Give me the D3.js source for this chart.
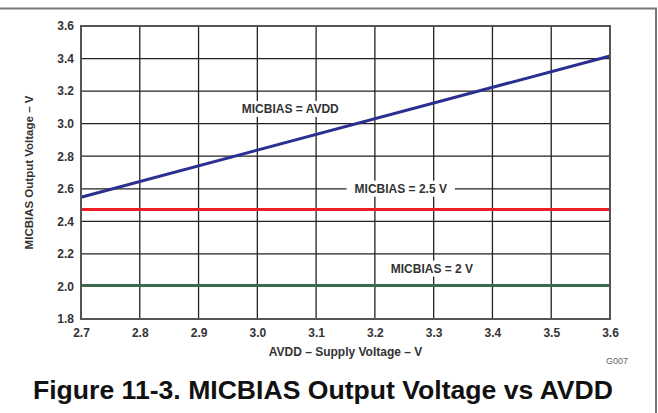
<!DOCTYPE html>
<html><head><meta charset="utf-8">
<script src="https://cdn.jsdelivr.net/npm/d3@7"></script>
<style>
html,body{margin:0;padding:0;background:#fff;}
svg text{font-family:"Liberation Sans",Arial,sans-serif;font-weight:bold;}
</style></head>
<body><svg id="c" width="658" height="413"></svg>
<script>
const xTicks = [2.7, 2.8, 2.9, 3.0, 3.1, 3.2, 3.3, 3.4, 3.5, 3.6];
const yTicks = [1.8, 2.0, 2.2, 2.4, 2.6, 2.8, 3.0, 3.2, 3.4, 3.6];
const avddX = [2.7, 3.6];
const micAvdd = [2.548, 3.416];
const mic25 = [2.472, 2.472];
const mic2 = [2.006, 2.006];
const seriesNames = ["MICBIAS = AVDD", "MICBIAS = 2.5 V", "MICBIAS = 2 V"];
const seriesColors = ["#2b2f8f", "#ee1c25", "#3b6a4c"];
const labelPos = [[3.056, 3.066], [3.244, 2.576], [3.297, 2.085]];

const svg = d3.select("#c");
const m = {l:81, t:26, r:610, b:319};
const x = d3.scaleLinear().domain([2.7,3.6]).range([m.l,m.r]);
const y = d3.scaleLinear().domain([1.8,3.6]).range([m.b,m.t]);

// outer frame
svg.append("path").attr("d",`M0,8.5H656V413`).attr("fill","none").attr("stroke","#777").attr("stroke-width",2);

// grid
const g = svg.append("g");
g.selectAll(".vx").data(xTicks.slice(1,-1)).enter().append("line")
 .attr("x1",d=>x(d)).attr("x2",d=>x(d)).attr("y1",m.t).attr("y2",m.b)
 .attr("stroke","#222").attr("stroke-width",1.3);
g.selectAll(".hy").data(yTicks.slice(1,-1)).enter().append("line")
 .attr("y1",d=>y(d)).attr("y2",d=>y(d)).attr("x1",m.l).attr("x2",m.r)
 .attr("stroke","#222").attr("stroke-width",1.3);

// labels with white backgrounds to break grid
const labels = svg.append("g");
seriesNames.forEach((n,i)=>{
  const t = labels.append("text").attr("x",x(labelPos[i][0])).attr("y",y(labelPos[i][1]))
    .attr("text-anchor","middle").attr("font-size",12).attr("fill","#333").text(n);
  const bb = t.node().getBBox();
  labels.insert("rect","text").attr("x",bb.x-8).attr("y",bb.y-1).attr("width",bb.width+16).attr("height",bb.height+2).attr("fill","#fff");
});

// lines
const line = d3.line().x(d=>x(d[0])).y(d=>y(d[1]));
[micAvdd, mic25, mic2].forEach((s,i)=>{
  svg.append("path").datum(avddX.map((v,j)=>[v,s[j]])).attr("d",line)
   .attr("fill","none").attr("stroke",seriesColors[i]).attr("stroke-width",3);
});

// plot border
svg.append("rect").attr("x",m.l).attr("y",m.t).attr("width",m.r-m.l).attr("height",m.b-m.t)
 .attr("fill","none").attr("stroke","#555").attr("stroke-width",2);

// axes
const xa = svg.append("g").attr("transform",`translate(0,${m.b})`)
 .call(d3.axisBottom(x).tickValues(xTicks).tickSize(0).tickPadding(9).tickFormat(d3.format(".1f")));
xa.select(".domain").remove();
xa.selectAll("text").attr("font-size",12).attr("fill","#333").style("font-family","Liberation Sans, Arial").style("font-weight","bold");
const ya = svg.append("g").attr("transform",`translate(${m.l},0)`)
 .call(d3.axisLeft(y).tickValues(yTicks).tickSize(0).tickPadding(7).tickFormat(d3.format(".1f")));
ya.select(".domain").remove();
ya.selectAll("text").attr("font-size",12).attr("fill","#333").style("font-family","Liberation Sans, Arial").style("font-weight","bold");

// axis titles
svg.append("text").attr("x",(m.l+m.r)/2).attr("y",356).attr("text-anchor","middle")
 .attr("font-size",12).attr("fill","#333").text("AVDD – Supply Voltage – V");
svg.append("text").attr("transform",`translate(33,${(m.t+m.b)/2}) rotate(-90)`).attr("text-anchor","middle")
 .attr("font-size",11.5).attr("fill","#333").text("MICBIAS Output Voltage – V");
svg.append("text").attr("x",617).attr("y",364).attr("text-anchor","middle").attr("font-size",9)
 .style("font-weight","normal").attr("fill","#666").text("G007");

// figure title
svg.append("text").attr("x",323).attr("y",399).attr("text-anchor","middle")
 .attr("font-size",25).attr("textLength",580).attr("lengthAdjust","spacingAndGlyphs")
 .attr("fill","#111").text("Figure 11-3. MICBIAS Output Voltage vs AVDD");
</script></body></html>
